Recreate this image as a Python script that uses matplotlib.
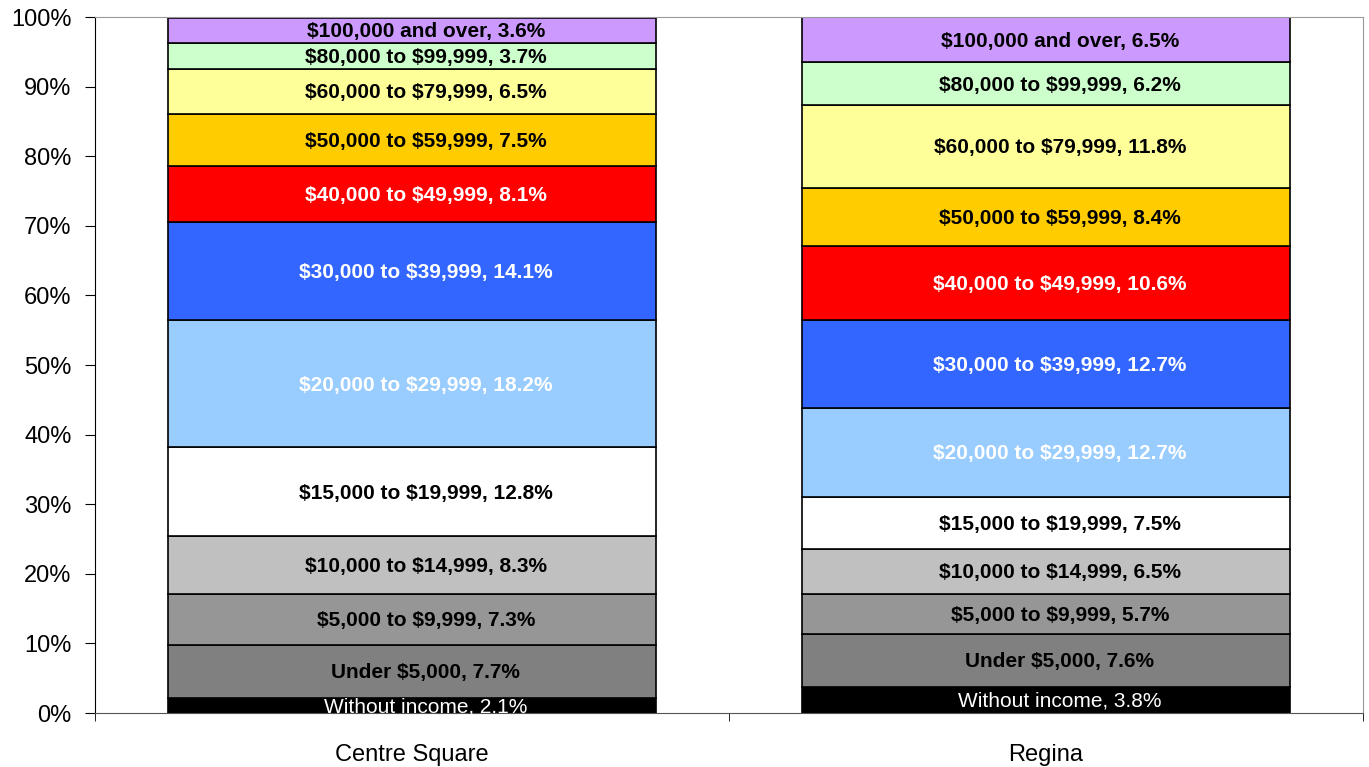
import numpy as np
import matplotlib
matplotlib.use("Agg")
import matplotlib.pyplot as plt

plt.rcParams['font.family'] = ['Liberation Sans', 'DejaVu Sans']

# data
places = ["Centre Square", "Regina"]
brackets = ["Without income", "Under $5,000", "$5,000 to $9,999", "$10,000 to $14,999",
            "$15,000 to $19,999", "$20,000 to $29,999", "$30,000 to $39,999",
            "$40,000 to $49,999", "$50,000 to $59,999", "$60,000 to $79,999",
            "$80,000 to $99,999", "$100,000 and over"]
centre_square = [2.1, 7.7, 7.3, 8.3, 12.8, 18.2, 14.1, 8.1, 7.5, 6.5, 3.7, 3.6]
regina = [3.8, 7.6, 5.7, 6.5, 7.5, 12.7, 12.7, 10.6, 8.4, 11.8, 6.2, 6.5]

colors = ["#000000", "#808080", "#969696", "#C0C0C0", "#FFFFFF", "#99CCFF",
          "#3366FF", "#FF0000", "#FFCC00", "#FFFF99", "#CCFFCC", "#CC99FF"]
text_colors = ["white", "black", "black", "black", "black", "white",
               "white", "white", "black", "black", "black", "black"]

values = np.array([centre_square, regina])
x = np.arange(len(places))

fig = plt.figure(figsize=(13.69, 7.67), dpi=100)
ax = fig.add_axes([0.0694, 0.0704, 0.9262, 0.9074])

bottoms = np.zeros(len(places))
for i, name in enumerate(brackets):
    vals = values[:, i]
    ax.bar(x, vals, width=0.77, bottom=bottoms, color=colors[i],
           edgecolor="black", linewidth=1.2)
    for j in range(len(places)):
        weight = "normal" if i == 0 else "bold"
        # labels sit a little right of the bar centre, as in the original
        ax.annotate(f"{name}, {vals[j]}%", (x[j], bottoms[j] + vals[j] / 2),
                    xytext=(10, -1), textcoords="offset points",
                    ha="center", va="center", fontsize=15, fontweight=weight,
                    color=text_colors[i], parse_math=False)
    bottoms += vals

ax.set_xlim(-0.5, 1.5)
ax.set_ylim(0, 100)
ax.set_yticks(np.arange(0, 101, 10))
ax.set_yticklabels([f"{v}%" for v in range(0, 101, 10)], fontsize=17)
ax.tick_params(axis="y", direction="out", length=7, pad=10)

ax.set_xticks(x)
ax.set_xticklabels(places, fontsize=17)
ax.set_xticks([-0.5, 0.5, 1.5], minor=True)
ax.tick_params(axis="x", which="major", length=0, pad=22)
ax.tick_params(axis="x", which="minor", length=6, direction="out")

ax.spines["left"].set_color("black")
ax.spines["bottom"].set_color("#555555")
ax.spines["top"].set_color("#999999")
ax.spines["right"].set_color("#999999")

fig.savefig("out.png", dpi=100)
